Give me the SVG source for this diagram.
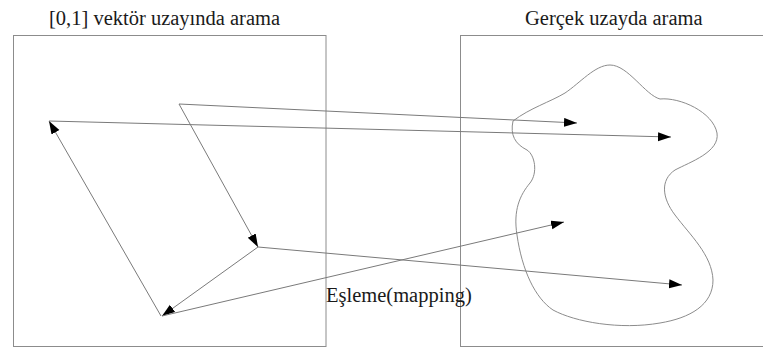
<svg xmlns="http://www.w3.org/2000/svg" width="763" height="349" viewBox="0 0 763 349">
  <style>
    .frame { fill: none; stroke: #8c8c8c; stroke-width: 1; }
    .title { font-family: "Liberation Serif", "Times New Roman", serif; font-size: 20.5px; fill: #1a1a1a; }
    .edge { fill: none; stroke: #7a7a7a; stroke-width: 1; }
    .region { fill: none; stroke: #8c8c8c; stroke-width: 1; }
  </style>
  <defs>
    <marker id="arrow" markerUnits="userSpaceOnUse" markerWidth="14" markerHeight="10" refX="13" refY="4.5" orient="auto">
      <path d="M0,0 L13,4.5 L0,9 Z" fill="#000"/>
    </marker>
  </defs>
  <rect width="763" height="349" fill="#fff"/>

  <!-- unit vector space -->
  <g id="vector-space">
    <rect class="frame" x="13.5" y="35.5" width="312.5" height="311"/>
    <text class="title" x="49" y="25">[0,1] vektör uzayında arama</text>
  </g>

  <!-- real space with feasible region -->
  <g id="real-space">
    <rect class="frame" x="460.5" y="35.5" width="320" height="311"/>
    <text class="title" x="525" y="25">Gerçek uzayda arama</text>
    <path class="region" d="M 513,121 C 530,108 550,102 565,93 C 580,83 595,65 610,65 C 628,65 645,95 660,99 C 680,97 713,112 717,133 C 720,152 690,162 675,170 C 660,180 662,198 675,215 C 690,235 712,255 713,280 C 713,305 690,318 660,323 C 620,330 575,322 553,310 C 535,298 522,270 517,235 C 513,210 520,195 530,183 C 538,173 535,155 527,150 C 515,144 510,135 513,121 Z"/>
  </g>

  <g id="mapping-label">
    <text class="title" x="326" y="302">Eşleme(mapping)</text>
  </g>

  <g id="connectors">
    <line class="edge" x1="161" y1="316" x2="49" y2="121" marker-end="url(#arrow)"/>
    <line class="edge" x1="49" y1="121" x2="671" y2="137" marker-end="url(#arrow)"/>
    <line class="edge" x1="179" y1="104" x2="577" y2="123" marker-end="url(#arrow)"/>
    <line class="edge" x1="179" y1="104" x2="258" y2="247" marker-end="url(#arrow)"/>
    <line class="edge" x1="258" y1="247" x2="162" y2="316" marker-end="url(#arrow)"/>
    <line class="edge" x1="258" y1="247" x2="682" y2="285" marker-end="url(#arrow)"/>
    <line class="edge" x1="162" y1="316" x2="564" y2="222" marker-end="url(#arrow)"/>
  </g>
</svg>
